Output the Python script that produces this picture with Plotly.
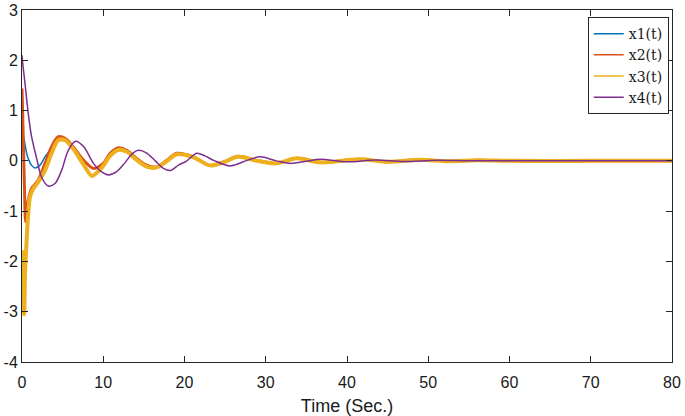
import plotly.graph_objects as go

# ---- data ----
t_x1 = [0, 0.16, 0.4, 0.57, 0.8, 1.18, 1.6, 2.2, 2.83, 3.44, 4.46, 5.3, 6.3, 7.6, 8.8, 10.0, 10.85,
        11.9, 12.9, 14.1, 15.4, 16.6, 17.8, 19.05, 21.1, 23.1, 24.8, 26.6, 28.9, 31.3, 33.8, 36.7,
        41.6, 45, 49, 52.5, 56, 60, 70, 80]
x1 = [0.58, 0.51, 0.3, 0.15, 0.03, -0.09, -0.14, -0.09, 0.08, 0.21, 0.44, 0.42, 0.26, 0.0, -0.15,
      -0.06, 0.14, 0.24, 0.2, 0.05, -0.09, -0.12, 0.01, 0.14, 0.07, -0.08, -0.02, 0.08, 0.01, -0.05,
      0.04, -0.03, 0.02, -0.015, 0.015, -0.01, 0.005, 0, 0, 0]

t_x2 = [0, 0.16, 0.3, 0.44, 0.6, 0.77, 1.18, 2.0, 2.83, 3.64, 4.46, 5.3, 6.3, 7.6, 8.8, 10.0, 10.85,
        11.9, 12.9, 14.1, 15.4, 16.6, 17.8, 19.05, 21.1, 23.1, 24.8, 26.6, 28.9, 31.3, 33.8, 36.7,
        41.6, 45, 49, 52.5, 56, 60, 70, 80]
x2 = [1.44, 0.41, -0.5, -1.21, -0.95, -0.78, -0.55, -0.38, -0.05, 0.28, 0.48, 0.45, 0.28, 0.01,
      -0.15, -0.05, 0.15, 0.26, 0.21, 0.05, -0.09, -0.12, 0.01, 0.15, 0.08, -0.09, -0.02, 0.09, 0.01,
      -0.05, 0.05, -0.03, 0.03, -0.02, 0.02, -0.01, 0.01, 0, 0, 0]

t_x3 = [0, 0.08, 0.16, 0.25, 0.37, 0.57, 0.77, 0.98, 1.39, 2.0, 2.83, 3.64, 4.46, 5.3, 6.3, 7.6, 8.6,
        9.3, 10.0, 10.85, 11.9, 12.9, 14.1, 15.4, 16.6, 17.8, 19.05, 21.1, 23.1, 24.8, 26.6, 28.9,
        31.3, 33.8, 36.7, 41.6, 45, 49, 52.5, 56, 60, 70, 80]
x3 = [-1.78, -2.5, -2.97, -3.05, -2.24, -1.58, -1.05, -0.72, -0.55, -0.42, -0.19, 0.15, 0.41, 0.41,
      0.24, -0.08, -0.3, -0.22, -0.1, 0.1, 0.22, 0.18, 0.02, -0.12, -0.13, -0.01, 0.13, 0.07, -0.09,
      -0.03, 0.08, 0.0, -0.05, 0.05, -0.03, 0.03, -0.02, 0.02, -0.01, 0.01, 0, 0, 0]

t_x4 = [0, 0.15, 0.37, 0.77, 1.18, 1.8, 2.4, 3.23, 4.06, 4.87, 5.7, 6.6, 7.6, 8.8, 9.8, 10.65, 11.6,
        12.6, 13.5, 14.3, 15.3, 16.4, 17.4, 18.3, 19.3, 20.2, 21.5, 22.5, 23.6, 25.6, 27.7, 29.3,
        31.3, 33.0, 35.0, 36.7, 40, 43.5, 47, 51, 55, 60, 70, 80]
x4 = [2.1, 1.85, 1.54, 0.94, 0.48, 0.05, -0.32, -0.50, -0.45, -0.19, 0.21, 0.39, 0.28, -0.05,
      -0.22, -0.28, -0.22, -0.05, 0.13, 0.21, 0.16, 0.0, -0.15, -0.19, -0.08, -0.01, 0.15, 0.1, 0.01,
      -0.1, 0.01, 0.08, 0.0, -0.05, -0.01, 0.03, -0.02, 0.015, -0.015, 0.01, 0, 0, 0, 0]

names = ["x1(t)", "x2(t)", "x3(t)", "x4(t)"]
colors = ["#0072BD", "#D95319", "#EDB120", "#7E2F8E"]
widths = [1.5, 3.0, 4.0, 1.5]

x_ticks = [0, 10, 20, 30, 40, 50, 60, 70, 80]
y_ticks = [-4, -3, -2, -1, 0, 1, 2, 3]
y_ticktext = [str(v) for v in y_ticks]

series = [(t_x1, x1), (t_x2, x2), (t_x3, x3), (t_x4, x4)]

fig = go.Figure()
for (tt, vv), nm, c, w in zip(series, names, colors, widths):
    fig.add_trace(go.Scatter(x=tt, y=vv, mode="lines", name=nm, showlegend=False,
                             line=dict(color=c, width=w, shape="spline", smoothing=0.9)))
# legend entries with thin lines
for nm, c in zip(names, colors):
    fig.add_trace(go.Scatter(x=[None], y=[None], mode="lines", name=nm,
                             line=dict(color=c, width=1.5)))

axis_common = dict(showline=True, mirror="ticks", linecolor="#262626", linewidth=1,
                   ticks="inside", ticklen=6, tickcolor="#262626", showgrid=False,
                   zeroline=False, automargin=False,
                   tickfont=dict(family="Liberation Sans, Arial", size=16, color="#1a1a1a"))

fig.update_xaxes(range=[0, 80], tickvals=x_ticks, ticklabelstandoff=6,
                 title=dict(text="Time (Sec.)", font=dict(family="Liberation Sans, Arial",
                                                          size=18, color="#1a1a1a"), standoff=9),
                 **axis_common)
fig.update_yaxes(range=[-4, 3], tickvals=y_ticks, ticktext=y_ticktext, **axis_common)

fig.update_layout(
    width=685, height=416,
    margin=dict(l=22, r=13, t=10, b=54),
    paper_bgcolor="white", plot_bgcolor="white",
    legend=dict(x=0.995, y=0.98, xanchor="right", yanchor="top",
                bgcolor="white", bordercolor="#262626", borderwidth=1,
                font=dict(family="DejaVu Serif", size=14, color="#1a1a1a"),
                tracegroupgap=0, itemwidth=30),
)

fig.write_html("out.html", config={"displayModeBar": False},
               post_script="document.body.style.margin='0';document.body.style.overflow='hidden';")
